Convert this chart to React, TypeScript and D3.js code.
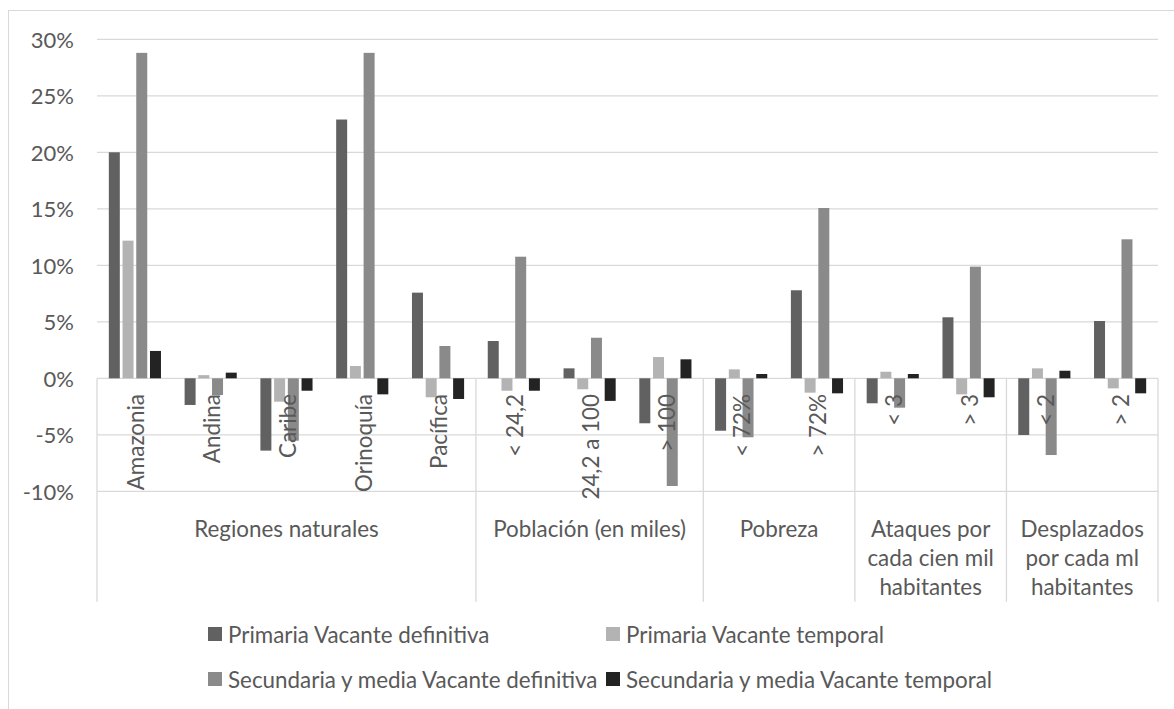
import React from "react";
import * as d3 from "d3";

const categories = [
  "Amazonia", "Andina", "Caribe", "Orinoquía", "Pacífica",
  "< 24,2", "24,2 a 100", "> 100",
  "< 72%", "> 72%",
  "< 3", "> 3",
  "< 2", "> 2",
];

const groups = [
  { lines: ["Regiones naturales"], count: 5 },
  { lines: ["Población (en miles)"], count: 3 },
  { lines: ["Pobreza"], count: 2 },
  { lines: ["Ataques por", "cada cien mil", "habitantes"], count: 2 },
  { lines: ["Desplazados", "por cada ml", "habitantes"], count: 2 },
];

const seriesNames = [
  "Primaria Vacante definitiva",
  "Primaria Vacante temporal",
  "Secundaria y media Vacante definitiva",
  "Secundaria y media Vacante temporal",
];

const seriesColors = ["#616161", "#b3b3b3", "#8a8a8a", "#232323"];

// values in %
const primariaDefinitiva = [20.0, -2.36, -6.4, 22.9, 7.58, 3.3, 0.88, -3.98, -4.64, 7.79, -2.21, 5.4, -5.02, 5.07];
const primariaTemporal = [12.18, 0.28, -2.07, 1.09, -1.68, -1.1, -0.97, 1.88, 0.79, -1.27, 0.58, -1.42, 0.88, -0.89];
const secundariaDefinitiva = [28.8, -1.48, -5.52, 28.8, 2.86, 10.76, 3.59, -9.53, -5.22, 15.07, -2.6, 9.88, -6.79, 12.3];
const secundariaTemporal = [2.42, 0.5, -1.1, -1.42, -1.83, -1.1, -2.0, 1.68, 0.38, -1.33, 0.38, -1.68, 0.67, -1.33];

const series = [primariaDefinitiva, primariaTemporal, secundariaDefinitiva, secundariaTemporal];

const yTicks = [-10, -5, 0, 5, 10, 15, 20, 25, 30];

const W = 1174;
const H = 709;
const FONT = "Lato, 'Open Sans', sans-serif";
const TEXT = "#595959";
const GRID = "#d9d9d9";
const FS = 22.4;

export default function App() {
  const plotL = 97;
  const plotR = 1158;
  const x = d3.scaleBand<string>().domain(categories).range([plotL, plotR]).padding(0);
  const y = d3.scaleLinear().domain([-10, 30]).range([491.3, 39.3]);
  const bw = x.bandwidth();
  const barW = bw * 0.145;
  const step = bw * 0.181;
  const start = bw / 2 - (3 * step + barW) / 2;
  const y0 = y(0);
  const axisBottom = 601.7;

  const bounds: number[] = [];
  let idx = 0;
  bounds.push(plotL);
  const groupCenters: number[] = [];
  groups.forEach((g) => {
    const s = x(categories[idx])!;
    idx += g.count;
    const e = idx < categories.length ? x(categories[idx])! : plotR;
    bounds.push(e);
    groupCenters.push((s + e) / 2);
  });

  const fmt = (v: number) => `${v}%`;

  const legendItems = [
    { i: 0, x: 208, y: 634 },
    { i: 1, x: 606, y: 634 },
    { i: 2, x: 208, y: 679 },
    { i: 3, x: 606, y: 679 },
  ];

  return (
    <>
      <style>{`body{margin:0;overflow:hidden;background:#fff}`}</style>
      <svg width={W} height={H} style={{ display: "block" }} fontFamily={FONT}>
        <rect x={0} y={0} width={W} height={H} fill="#fff" />
        <rect x={8.5} y={10.5} width={W + 10} height={H + 10} fill="none" stroke={GRID} strokeWidth={1} />
        {yTicks.map((t) => (
          <line key={t} x1={plotL} x2={plotR} y1={y(t)} y2={y(t)} stroke={GRID} strokeWidth={1.3} />
        ))}
        {yTicks.map((t) => (
          <text key={"l" + t} x={74} y={y(t)} textAnchor="end" dominantBaseline="central" fontSize={22} fill={TEXT}>
            {fmt(t)}
          </text>
        ))}
        {series.map((vals, si) =>
          vals.map((v, ci) => {
            const bx = x(categories[ci])! + start + si * step;
            const yv = y(v);
            return (
              <rect
                key={si + "-" + ci}
                x={bx}
                y={Math.min(yv, y0)}
                width={barW}
                height={Math.abs(yv - y0)}
                fill={seriesColors[si]}
              />
            );
          })
        )}
        {bounds.map((b, i) => (
          <line key={"b" + i} x1={b} x2={b} y1={y0} y2={axisBottom} stroke={GRID} strokeWidth={1.3} />
        ))}
        {categories.map((c) => {
          const cx = x(c)! + bw / 2 + 0.8;
          const cy = 394;
          return (
            <text
              key={c}
              transform={`translate(${cx},${cy}) rotate(-90)`}
              textAnchor="end"
              dominantBaseline="central"
              fontSize={FS}
              fill={TEXT}
            >
              {c}
            </text>
          );
        })}
        {groups.map((g, gi) =>
          g.lines.map((ln, li) => (
            <text
              key={gi + "-" + li}
              x={groupCenters[gi]}
              y={528.3 + li * 29.3}
              textAnchor="middle"
              dominantBaseline="central"
              fontSize={FS}
              fill={TEXT}
            >
              {ln}
            </text>
          ))
        )}
        {legendItems.map((it) => (
          <g key={"lg" + it.i}>
            <rect x={it.x} y={it.y - 7} width={14} height={14} fill={seriesColors[it.i]} />
            <text x={it.x + 20} y={it.y} dominantBaseline="central" fontSize={FS} fill={TEXT}>
              {seriesNames[it.i]}
            </text>
          </g>
        ))}
      </svg>
    </>
  );
}
